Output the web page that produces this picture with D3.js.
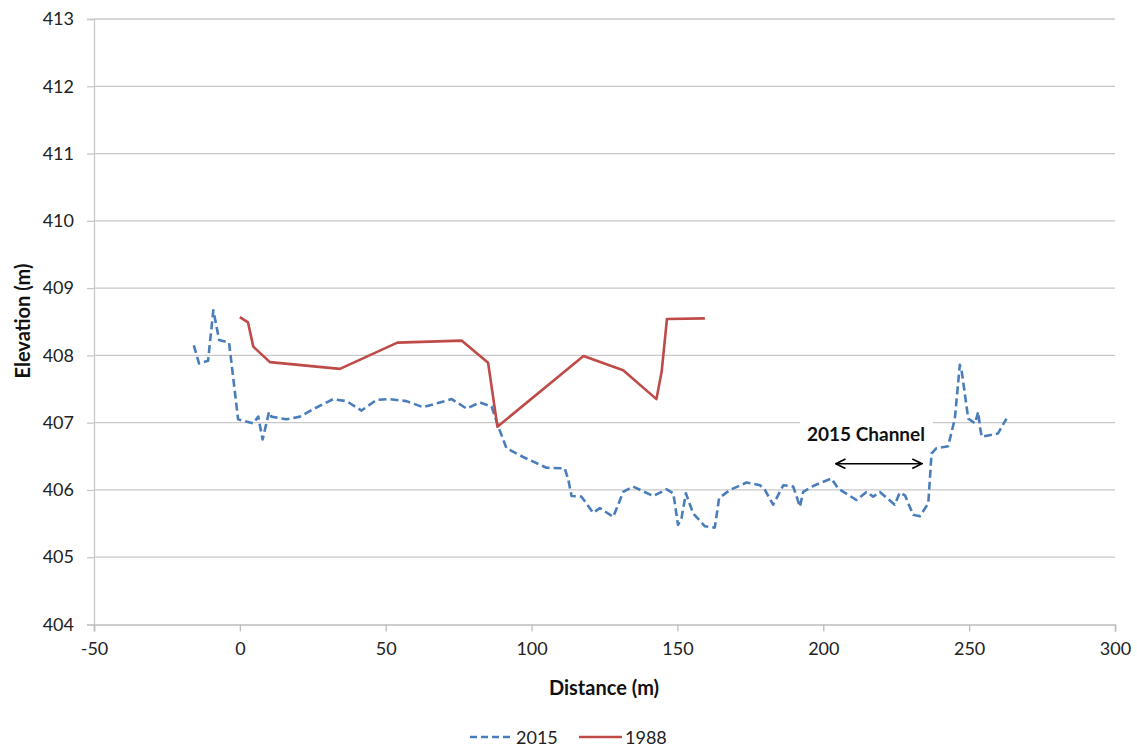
<!DOCTYPE html>
<html>
<head>
<meta charset="utf-8">
<script src="https://cdn.jsdelivr.net/npm/d3@7"></script>
<style>
  body { margin: 0; background: #fff; }
  svg { display: block; font-family: "Lato", "Open Sans", "Liberation Sans", sans-serif; }
</style>
</head>
<body>
<svg id="chart" width="1137" height="749"></svg>
<script>
// ---- data ----
const dist2015 = [-15.8, -14, -10.9, -9.1, -7.1, -3.7, -0.6, 4.6, 6.3, 7.8, 10, 10.8, 16, 20.6, 25.1, 32, 36.6, 41.7, 46.9, 51.4, 57.1, 62.8, 72.6, 77.7, 82.3, 86.3, 88.6, 91.4, 97.1, 105.1, 111.4, 112.6, 113.7, 117.1, 121.1, 123.4, 128, 131.4, 134.8, 141.7, 146.3, 148.6, 150.2, 151.4, 152.9, 155.4, 159.4, 162.8, 164.3, 168, 173.7, 178.3, 180, 182.8, 186.3, 189.7, 192, 193.1, 197.1, 202.8, 205.1, 211.4, 214.8, 217.1, 219.4, 224.5, 226.2, 228, 230.8, 233.1, 236, 237.1, 238.8, 242.8, 245.1, 246.8, 247.4, 249.7, 252, 253.1, 253.7, 254.3, 259.9, 262.8];
const elev2015 = [408.15, 407.88, 407.92, 408.67, 408.23, 408.19, 407.05, 406.99, 407.09, 406.75, 407.16, 407.09, 407.05, 407.09, 407.2, 407.35, 407.32, 407.18, 407.34, 407.35, 407.32, 407.23, 407.35, 407.21, 407.3, 407.24, 406.94, 406.62, 406.49, 406.33, 406.32, 406.15, 405.91, 405.9, 405.66, 405.73, 405.6, 405.97, 406.05, 405.91, 406.01, 405.95, 405.48, 405.58, 405.95, 405.65, 405.46, 405.44, 405.88, 406.0, 406.11, 406.07, 406.0, 405.78, 406.07, 406.05, 405.75, 405.97, 406.07, 406.17, 406.02, 405.85, 405.97, 405.9, 405.97, 405.78, 405.96, 405.92, 405.63, 405.61, 405.8, 406.54, 406.62, 406.65, 407.06, 407.86, 407.78, 407.06, 406.99, 407.16, 406.94, 406.79, 406.84, 407.06];

const dist1988 = [0, 2.8, 4.6, 10.3, 34.3, 54, 76, 85.1, 88.3, 117.8, 131.4, 142.8, 144.6, 146.4, 159.4];
const elev1988 = [408.57, 408.49, 408.13, 407.9, 407.8, 408.19, 408.22, 407.89, 406.94, 407.99, 407.78, 407.35, 407.76, 408.54, 408.55];

const xTicks = [-50, 0, 50, 100, 150, 200, 250, 300];
const yTicks = [404, 405, 406, 407, 408, 409, 410, 411, 412, 413];
const seriesNames = ["2015", "1988"];
const annotationText = "2015 Channel";
const annotationRange = [204.3, 233.8];
const annotationElev = 406.39;

// ---- layout ----
const svg = d3.select("#chart");
const pLeft = 94, pRight = 1115, pTop = 19, pBottom = 624.5;
const x = d3.scaleLinear().domain([-50, 300]).range([pLeft, pRight]);
const y = d3.scaleLinear().domain([404, 413]).range([pBottom, pTop]);

const defs = svg.append("defs");
defs.append("marker").attr("id", "arr").attr("viewBox", "0 0 10 10")
  .attr("refX", 9).attr("refY", 5).attr("markerWidth", 12).attr("markerHeight", 12)
  .attr("markerUnits", "userSpaceOnUse").attr("orient", "auto-start-reverse")
  .append("path").attr("d", "M1,1 L9,5 L1,9").attr("fill", "none").attr("stroke", "#000").attr("stroke-width", 1.4);

// gridlines
svg.append("g").selectAll("line").data(yTicks.filter(d => d !== 404)).join("line")
  .attr("x1", pLeft).attr("x2", pRight).attr("y1", d => y(d)).attr("y2", d => y(d))
  .attr("stroke", "#c8c8c8").attr("stroke-width", 1.3);

const fmt = d => String(d);

// y axis
const yAxis = svg.append("g").attr("transform", `translate(${pLeft},0)`)
  .call(d3.axisLeft(y).tickValues(yTicks).tickSize(7).tickPadding(13).tickFormat(fmt));
yAxis.select(".domain").attr("stroke", "#c8c8c8").attr("stroke-width", 1.3);
yAxis.selectAll(".tick line").attr("stroke", "#c8c8c8").attr("stroke-width", 1.3);
yAxis.selectAll("text").attr("font-size", 18).attr("fill", "#222").attr("font-family", "Lato, sans-serif");

// x axis
const xAxis = svg.append("g").attr("transform", `translate(0,${pBottom})`)
  .call(d3.axisBottom(x).tickValues(xTicks).tickSize(7).tickPadding(11).tickFormat(fmt));
xAxis.select(".domain").attr("stroke", "#bdbdbd").attr("stroke-width", 1.5);
xAxis.selectAll(".tick line").attr("stroke", "#bdbdbd").attr("stroke-width", 1.3);
xAxis.selectAll("text").attr("font-size", 18).attr("fill", "#222").attr("font-family", "Lato, sans-serif");

// axis titles
svg.append("text").attr("x", 604).attr("y", 695).attr("text-anchor", "middle")
  .attr("font-size", 20).attr("font-weight", "bold").attr("fill", "#111").text("Distance (m)");
svg.append("text").attr("transform", "translate(30,321) rotate(-90)").attr("text-anchor", "middle")
  .attr("font-size", 20).attr("font-weight", "bold").attr("fill", "#111").text("Elevation (m)");

// lines
const line = d3.line().x(d => x(d[0])).y(d => y(d[1]));
const data2015 = dist2015.map((d, i) => [d, elev2015[i]]);
const data1988 = dist1988.map((d, i) => [d, elev1988[i]]);
const colors = ["#4a7ebb", "#be4b48"];

svg.append("path").datum(data2015).attr("d", line).attr("fill", "none")
  .attr("stroke", colors[0]).attr("stroke-width", 2.6).attr("stroke-dasharray", "8,4")
  .attr("stroke-linejoin", "round");
svg.append("path").datum(data1988).attr("d", line).attr("fill", "none")
  .attr("stroke", colors[1]).attr("stroke-width", 2.6).attr("stroke-linejoin", "round");

// annotation
svg.append("rect").attr("x", 800).attr("y", 420).attr("width", 133).attr("height", 26).attr("fill", "#fff");
svg.append("text").attr("x", 866).attr("y", 441).attr("text-anchor", "middle")
  .attr("font-size", 19).attr("font-weight", "bold").attr("fill", "#111").text(annotationText);
svg.append("line").attr("x1", x(annotationRange[0])).attr("x2", x(annotationRange[1]))
  .attr("y1", y(annotationElev)).attr("y2", y(annotationElev))
  .attr("stroke", "#000").attr("stroke-width", 1.5)
  .attr("marker-start", "url(#arr)").attr("marker-end", "url(#arr)");

// legend
const leg = svg.append("g");
const legItems = [
  { name: seriesNames[0], color: colors[0], dash: "7,4", x1: 470, x2: 513 },
  { name: seriesNames[1], color: colors[1], dash: null, x1: 579, x2: 622 }
];
legItems.forEach(it => {
  leg.append("line").attr("x1", it.x1).attr("x2", it.x2).attr("y1", 737).attr("y2", 737)
    .attr("stroke", it.color).attr("stroke-width", 2.6).attr("stroke-dasharray", it.dash);
  leg.append("text").attr("x", it.x2 + 3).attr("y", 743.5).attr("font-size", 18).attr("fill", "#222").text(it.name);
});
</script>
</body>
</html>
